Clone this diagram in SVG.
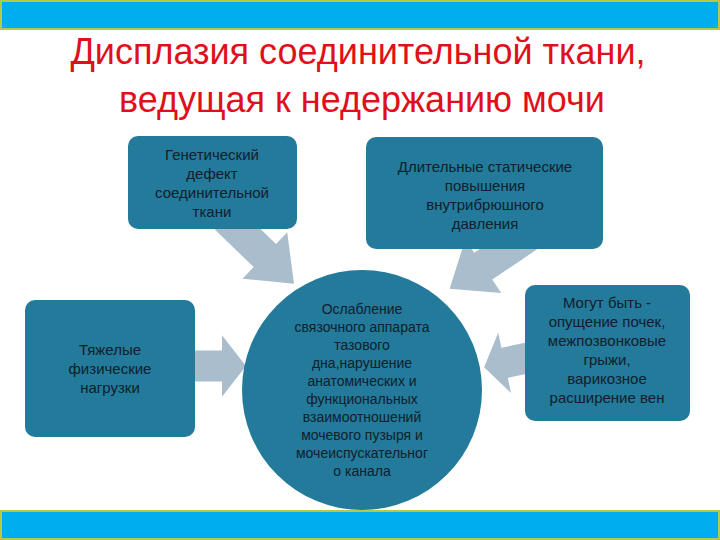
<svg xmlns="http://www.w3.org/2000/svg" width="720" height="540" viewBox="0 0 720 540">
<style>
.box{fill:#237a9b}
.t{font-family:"Liberation Sans",Arial,sans-serif;font-size:15px;fill:#10202c;text-anchor:middle}
.arr{fill:#a9bdcc}
.title{font-family:"Liberation Sans",Arial,sans-serif;font-size:36px;fill:#e0101a;text-anchor:middle}
</style>
<defs><path id="ba" d="M0,-14 L40,-14 L40,-28 L70,0 L40,28 L40,14 L0,14 Z"/></defs>
<rect width="720" height="540" fill="#fff"/>
<rect x="1" y="1" width="718" height="28" fill="#00aeef" stroke="#b5c84a" stroke-width="2"/>
<rect x="1" y="511" width="718" height="28" fill="#00aeef" stroke="#b5c84a" stroke-width="2"/>
<text class="title" x="358" y="64">Дисплазия соединительной ткани,</text>
<text class="title" x="362" y="112">ведущая к недержанию мочи</text>
<g id="connectors">
<use href="#ba" class="arr" transform="translate(226,218) rotate(44) scale(1.35,1.15)"/>
<use href="#ba" class="arr" transform="translate(528,236) rotate(146) scale(1.35,1.15)"/>
<use href="#ba" class="arr" transform="translate(190,366) scale(0.8,1.1)"/>
<use href="#ba" class="arr" transform="translate(532,357) rotate(168) scale(0.7,1.1)"/>
</g>
<g id="n1"><rect class="box" x="128" y="136" width="169" height="93" rx="10"/>
<text class="t"><tspan x="212" y="160">Генетический</tspan><tspan x="212" y="179">дефект</tspan><tspan x="212" y="198">соединительной</tspan><tspan x="212" y="217">ткани</tspan></text></g>
<g id="n2"><rect class="box" x="366" y="137" width="237" height="112" rx="10"/>
<text class="t"><tspan x="485" y="172">Длительные статические</tspan><tspan x="485" y="191">повышения</tspan><tspan x="485" y="210">внутрибрюшного</tspan><tspan x="485" y="229">давления</tspan></text></g>
<g id="n3"><rect class="box" x="25" y="300" width="170" height="137" rx="10"/>
<text class="t"><tspan x="110" y="355">Тяжелые</tspan><tspan x="110" y="374">физические</tspan><tspan x="110" y="393">нагрузки</tspan></text></g>
<g id="n4"><rect class="box" x="525" y="285" width="165" height="136" rx="10"/>
<text class="t"><tspan x="607" y="308">Могут быть -</tspan><tspan x="607" y="327">опущение почек,</tspan><tspan x="607" y="346">межпозвонковые</tspan><tspan x="607" y="365">грыжи,</tspan><tspan x="607" y="384">варикозное</tspan><tspan x="607" y="403">расширение вен</tspan></text></g>
<g id="n5"><circle class="box" cx="362" cy="390" r="120"/>
<text class="t" style="font-size:14px"><tspan x="362" y="314">Ослабление</tspan><tspan x="362" y="332">связочного аппарата</tspan><tspan x="362" y="350">тазового</tspan><tspan x="362" y="368">дна,нарушение</tspan><tspan x="362" y="386">анатомических и</tspan><tspan x="362" y="404">функциональных</tspan><tspan x="362" y="422">взаимоотношений</tspan><tspan x="362" y="440">мочевого пузыря  и</tspan><tspan x="362" y="458">мочеиспускательног</tspan><tspan x="362" y="476">о канала</tspan></text></g>
</svg>
